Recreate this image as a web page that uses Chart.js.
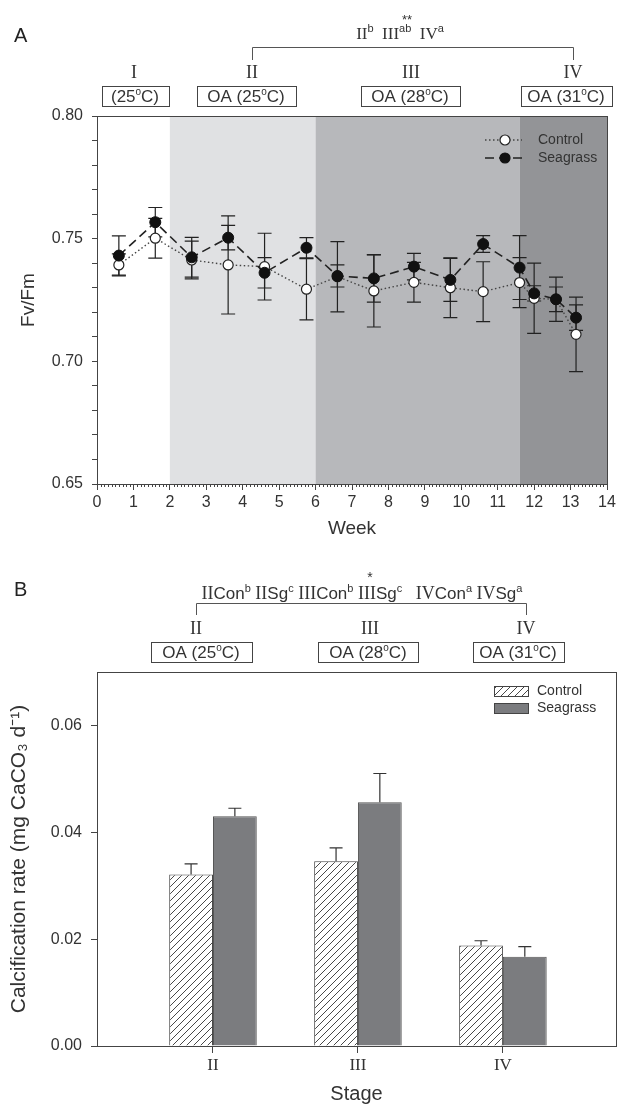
<!DOCTYPE html>
<html>
<head>
<meta charset="utf-8">
<script src="https://cdn.jsdelivr.net/npm/chart.js@4"></script>
<style>
  body { margin: 0; background: #fff; }
  #wrap { position: relative; width: 619px; height: 1106px; }
  canvas { position: absolute; left: 0; }
  #cA { top: 0; }
  #cB { top: 560px; }
</style>
</head>
<body>
<div id="wrap">
  <canvas id="cA" width="619" height="560"></canvas>
  <canvas id="cB" width="619" height="546"></canvas>
</div>
<script>
// ---- panel A data (Fv/Fm by week) ----
const weeks = [0.6, 1.6, 2.6, 3.6, 4.6, 5.75, 6.6, 7.6, 8.7, 9.7, 10.6, 11.6, 12.0, 12.6, 13.15];
const controlFv = [0.7393, 0.7502, 0.7413, 0.7393, 0.7386, 0.7294, 0.7345, 0.7287, 0.7322, 0.7300, 0.7284, 0.7321, 0.7257, 0.7253, 0.7110];
const controlErr = [0.0045, 0.0081, 0.0077, 0.0200, 0.0136, 0.0125, 0.0143, 0.0147, 0.0081, 0.0122, 0.0122, 0.0102, 0.0143, 0.0050, 0.0152];
const seagrassFv = [0.7431, 0.7567, 0.7424, 0.7504, 0.7361, 0.7463, 0.7348, 0.7338, 0.7386, 0.7332, 0.7478, 0.7382, 0.7277, 0.7253, 0.7178];
const seagrassErr = [0.0080, 0.0060, 0.0081, 0.0050, 0.0062, 0.0041, 0.0045, 0.0097, 0.0054, 0.0088, 0.0034, 0.0130, 0.0031, 0.0090, 0.0052];

// treatment periods shaded behind the lines
const bandStart = [0, 2, 6, 11.6];
const bandEnd = [2, 6, 11.6, 14];
const bandColors = ['#ffffff', '#e0e1e3', '#b7b8bb', '#939497'];

// ---- panel B data (calcification by stage) ----
const stages = ['II', 'III', 'IV'];
const controlCalc = [0.0321, 0.0346, 0.0188];
const controlCalcErr = [0.0020, 0.0025, 0.0009];
const seagrassCalc = [0.0430, 0.0456, 0.0167];
const seagrassCalcErr = [0.0015, 0.0054, 0.0019];

const SANS = '"Liberation Sans", Arial, sans-serif';
const SERIF = '"Liberation Serif", "Times New Roman", serif';
const INK = '#333';

Chart.defaults.font.family = SANS;
Chart.defaults.color = INK;

function drawRich(ctx, parts, cx, baseY) {
  let w = 0;
  parts.forEach(p => { ctx.font = p.font; p.w = ctx.measureText(p.t).width; w += p.w; });
  let x = cx - w / 2;
  ctx.textAlign = 'left';
  ctx.textBaseline = 'alphabetic';
  parts.forEach(p => { ctx.font = p.font; ctx.fillText(p.t, x, baseY + (p.dy || 0)); x += p.w; });
  return w;
}

function oaParts(temp, oa) {
  return [
    { t: (oa ? 'OA (' : '(') + temp, font: '17px ' + SANS },
    { t: 'o', font: '10px ' + SANS, dy: -7 },
    { t: 'C)', font: '17px ' + SANS },
  ];
}

function boxLabel(ctx, temp, oa, cx, w, top, h) {
  ctx.strokeStyle = '#444';
  ctx.lineWidth = 1;
  ctx.strokeRect(Math.round(cx - w / 2) + 0.5, top + 0.5, Math.round(w), h);
  ctx.fillStyle = INK;
  drawRich(ctx, oaParts(temp, oa), cx, top + h - 4);
}

function supParts(items, mainFont, midFont, subFont) {
  const parts = [];
  items.forEach((it, i) => {
    if (i > 0) parts.push({ t: it.gap || '  ', font: mainFont });
    parts.push({ t: it.r, font: mainFont });
    if (it.s) parts.push({ t: it.s, font: midFont });
    parts.push({ t: it.sup, font: subFont, dy: -7 });
  });
  return parts;
}

// ---------------- Panel A ----------------
const errsA = [controlErr, seagrassErr];

const panelAPlugin = {
  id: 'panelA',
  beforeDatasetsDraw(chart) {
    const { ctx, chartArea: a, scales: { x, y } } = chart;
    ctx.save();
    bandStart.forEach((s, i) => {
      const x0 = x.getPixelForValue(s), x1 = x.getPixelForValue(bandEnd[i]);
      ctx.fillStyle = bandColors[i];
      ctx.fillRect(x0, a.top, x1 - x0, a.bottom - a.top);
    });
    ctx.strokeStyle = '#222';
    ctx.lineWidth = 1.2;
    chart.data.datasets.forEach((ds, d) => {
      ds.data.forEach((p, i) => {
        const px = x.getPixelForValue(p.x);
        const t = y.getPixelForValue(p.y + errsA[d][i]);
        const b = y.getPixelForValue(p.y - errsA[d][i]);
        ctx.beginPath();
        ctx.moveTo(px, t); ctx.lineTo(px, b);
        ctx.moveTo(px - 7, t); ctx.lineTo(px + 7, t);
        ctx.moveTo(px - 7, b); ctx.lineTo(px + 7, b);
        ctx.stroke();
      });
    });
    ctx.restore();
  },
  afterDatasetsDraw(chart) {
    const { ctx, chartArea: a, scales: { x } } = chart;
    ctx.save();
    ctx.strokeStyle = '#444';
    ctx.lineWidth = 1;
    ctx.strokeRect(a.left + 0.5, a.top + 0.5, a.right - a.left, a.bottom - a.top);

    // minor ticks on the week axis
    ctx.beginPath();
    for (let v = 0; v <= 140; v++) {
      if (v % 10 === 0) continue;
      const px = Math.round(x.getPixelForValue(v / 10)) + 0.5;
      ctx.moveTo(px, a.bottom); ctx.lineTo(px, a.bottom + 3);
    }
    ctx.stroke();

    // legend
    const lx0 = 485, lx1 = 522, mx = 505, tx = 538;
    const rows = [{ y: 140, ds: chart.data.datasets[0] }, { y: 158, ds: chart.data.datasets[1] }];
    rows.forEach(r => {
      ctx.strokeStyle = r.ds.borderColor;
      ctx.lineWidth = r.ds.borderWidth;
      ctx.setLineDash(r.ds.borderDash);
      ctx.beginPath(); ctx.moveTo(lx0, r.y); ctx.lineTo(lx1, r.y); ctx.stroke();
      ctx.setLineDash([]);
      ctx.fillStyle = r.ds.pointBackgroundColor;
      ctx.strokeStyle = r.ds.pointBorderColor;
      ctx.lineWidth = 1.2;
      ctx.beginPath(); ctx.arc(mx, r.y, 5, 0, Math.PI * 2); ctx.fill(); ctx.stroke();
      ctx.fillStyle = INK;
      ctx.font = '14px ' + SANS;
      ctx.textBaseline = 'middle';
      ctx.fillText(r.ds.label, tx, r.y);
    });
    ctx.restore();
  },
  afterDraw(chart) {
    const { ctx } = chart;
    ctx.save();
    ctx.fillStyle = '#222';
    ctx.font = '20px ' + SANS;
    ctx.textBaseline = 'alphabetic';
    ctx.fillText('A', 14, 42);

    ctx.fillStyle = INK;
    ctx.font = '13px ' + SANS;
    ctx.textAlign = 'center';
    ctx.fillText('**', 407, 24);
    drawRich(ctx, supParts([{ r: 'II', sup: 'b' }, { r: 'III', sup: 'ab' }, { r: 'IV', sup: 'a' }],
      '17px ' + SERIF, '', '11px ' + SANS), 400, 39);

    ctx.strokeStyle = '#555';
    ctx.lineWidth = 1;
    ctx.beginPath();
    ctx.moveTo(252.5, 60); ctx.lineTo(252.5, 47.5); ctx.lineTo(573.5, 47.5); ctx.lineTo(573.5, 60);
    ctx.stroke();

    const romanX = [134, 252, 411, 573];
    ['I', 'II', 'III', 'IV'].forEach((r, i) => {
      ctx.font = '18px ' + SERIF;
      ctx.textAlign = 'center';
      ctx.fillText(r, romanX[i], 78);
    });
    boxLabel(ctx, '25', false, 135, 67, 86, 20);
    boxLabel(ctx, '25', true, 246, 99, 86, 20);
    boxLabel(ctx, '28', true, 410, 99, 86, 20);
    boxLabel(ctx, '31', true, 566, 91, 86, 20);
    ctx.restore();
  }
};

new Chart(document.getElementById('cA'), {
  type: 'line',
  data: {
    datasets: [
      {
        label: 'Control',
        data: weeks.map((w, i) => ({ x: w, y: controlFv[i] })),
        borderColor: '#444', borderWidth: 1.4, borderDash: [1.5, 2.5],
        pointRadius: 5, pointBackgroundColor: '#fff', pointBorderColor: '#222', pointBorderWidth: 1.2,
        order: 1,
      },
      {
        label: 'Seagrass',
        data: weeks.map((w, i) => ({ x: w, y: seagrassFv[i] })),
        borderColor: '#222', borderWidth: 1.6, borderDash: [9, 5],
        pointRadius: 5.5, pointBackgroundColor: '#111', pointBorderColor: '#111', pointBorderWidth: 1,
        order: 0,
      },
    ],
  },
  options: {
    responsive: false,
    animation: false,
    layout: { padding: { top: 116, right: 12, left: 0, bottom: 0 } },
    plugins: { legend: { display: false }, tooltip: { enabled: false } },
    scales: {
      x: {
        type: 'linear', min: 0, max: 14,
        afterFit: s => { s.height = 76; },
        ticks: { stepSize: 1, padding: 3, font: { size: 16 }, color: INK, maxRotation: 0 },
        grid: { drawOnChartArea: false, tickLength: 6, color: '#444' },
        border: { color: '#444' },
        title: { display: true, text: 'Week', font: { size: 19 }, color: INK, padding: { top: 0, bottom: 20 } },
      },
      y: {
        min: 0.65, max: 0.80,
        afterFit: s => { s.width = 97; },
        ticks: {
          stepSize: 0.01, autoSkip: false, padding: 9, font: { size: 16 }, color: INK,
          callback: v => Math.abs(v * 20 - Math.round(v * 20)) < 1e-6 ? v.toFixed(2) : '',
        },
        grid: { drawOnChartArea: false, tickLength: 5, color: '#444' },
        border: { color: '#444' },
        title: { display: true, text: 'Fv/Fm', font: { size: 19 }, color: INK, padding: { top: 17, bottom: 0 } },
      },
    },
  },
  plugins: [panelAPlugin],
});

// ---------------- Panel B ----------------
function hatchPattern() {
  const c = document.createElement('canvas');
  c.width = 7; c.height = 7;
  const g = c.getContext('2d');
  g.fillStyle = '#fff';
  g.fillRect(0, 0, 7, 7);
  g.strokeStyle = '#333';
  g.lineWidth = 0.9;
  g.beginPath();
  g.moveTo(-1, 8); g.lineTo(8, -1);
  g.moveTo(-1, 1); g.lineTo(1, -1);
  g.moveTo(6, 8); g.lineTo(8, 6);
  g.stroke();
  return g.createPattern(c, 'repeat');
}

const errsB = [controlCalcErr, seagrassCalcErr];

const panelBPlugin = {
  id: 'panelB',
  afterDatasetsDraw(chart) {
    const { ctx, chartArea: a, scales: { y } } = chart;
    ctx.save();
    ctx.strokeStyle = '#333';
    ctx.lineWidth = 1.2;
    chart.data.datasets.forEach((ds, d) => {
      const meta = chart.getDatasetMeta(d);
      meta.data.forEach((bar, i) => {
        const px = bar.x;
        const t = y.getPixelForValue(ds.data[i].y + errsB[d][i]);
        ctx.beginPath();
        ctx.moveTo(px, bar.y); ctx.lineTo(px, t);
        ctx.moveTo(px - 6.5, t); ctx.lineTo(px + 6.5, t);
        ctx.stroke();
      });
    });
    ctx.strokeStyle = '#444';
    ctx.lineWidth = 1;
    ctx.strokeRect(a.left + 0.5, a.top + 0.5, a.right - a.left, a.bottom - a.top);

    // legend
    const sx = 494, sw = 34, tx = 537;
    const rows = [{ y: 131, ds: chart.data.datasets[0] }, { y: 148, ds: chart.data.datasets[1] }];
    rows.forEach(r => {
      ctx.fillStyle = r.ds.backgroundColor;
      ctx.fillRect(sx, r.y - 5, sw, 10);
      ctx.strokeStyle = '#444';
      ctx.lineWidth = 1;
      ctx.strokeRect(sx + 0.5, r.y - 5 + 0.5, sw, 10);
      ctx.fillStyle = INK;
      ctx.font = '14px ' + SANS;
      ctx.textBaseline = 'middle';
      ctx.fillText(r.ds.label, tx, r.y);
    });
    ctx.restore();
  },
  afterDraw(chart) {
    const { ctx } = chart;
    ctx.save();
    ctx.fillStyle = '#222';
    ctx.font = '20px ' + SANS;
    ctx.fillText('B', 14, 36);

    ctx.fillStyle = INK;
    ctx.font = '14px ' + SANS;
    ctx.textAlign = 'center';
    ctx.fillText('*', 370, 22);
    drawRich(ctx, supParts([
      { r: 'II', s: 'Con', sup: 'b' }, { r: 'II', s: 'Sg', sup: 'c', gap: ' ' },
      { r: 'III', s: 'Con', sup: 'b', gap: ' ' }, { r: 'III', s: 'Sg', sup: 'c', gap: ' ' },
      { r: 'IV', s: 'Con', sup: 'a', gap: '   ' }, { r: 'IV', s: 'Sg', sup: 'a', gap: ' ' },
    ], '18px ' + SERIF, '17px ' + SANS, '11px ' + SANS), 362, 39);

    ctx.strokeStyle = '#555';
    ctx.lineWidth = 1;
    ctx.beginPath();
    ctx.moveTo(196.5, 55); ctx.lineTo(196.5, 43.5); ctx.lineTo(526.5, 43.5); ctx.lineTo(526.5, 55);
    ctx.stroke();

    const romanX = [196, 370, 526];
    stages.forEach((r, i) => {
      ctx.font = '18px ' + SERIF;
      ctx.textAlign = 'center';
      ctx.fillText(r, romanX[i], 74);
    });
    boxLabel(ctx, '25', true, 201, 101, 82, 20);
    boxLabel(ctx, '28', true, 368, 100, 82, 20);
    boxLabel(ctx, '31', true, 518, 91, 82, 20);
    ctx.restore();
  }
};

new Chart(document.getElementById('cB'), {
  type: 'bar',
  data: {
    datasets: [
      {
        label: 'Control',
        data: stages.map((s, i) => ({ x: i + 2, y: controlCalc[i] })),
        backgroundColor: hatchPattern(), borderColor: '#444', borderWidth: 1,
        categoryPercentage: 0.604, barPercentage: 1,
      },
      {
        label: 'Seagrass',
        data: stages.map((s, i) => ({ x: i + 2, y: seagrassCalc[i] })),
        backgroundColor: '#7b7c7f', borderColor: '#555', borderWidth: 1,
        categoryPercentage: 0.604, barPercentage: 1,
      },
    ],
  },
  options: {
    responsive: false,
    animation: false,
    layout: { padding: { top: 112, right: 3, left: 0, bottom: 0 } },
    plugins: { legend: { display: false }, tooltip: { enabled: false } },
    scales: {
      x: {
        type: 'linear', min: 1.2, max: 4.78, offset: false,
        afterFit: s => { s.height = 60; },
        afterBuildTicks: s => { s.ticks = stages.map((st, i) => ({ value: i + 2 })); },
        ticks: { font: { size: 17, family: SERIF }, color: INK, padding: 2, maxRotation: 0,
                 callback: v => stages[v - 2] },
        grid: { drawOnChartArea: false, tickLength: 7, color: '#444', offset: false },
        border: { color: '#444' },
        title: { display: true, text: 'Stage', font: { size: 20 }, color: INK, padding: { top: 0, bottom: 0 } },
      },
      y: {
        min: 0, max: 0.07,
        afterFit: s => { s.width = 97; },
        ticks: { stepSize: 0.02, includeBounds: false, padding: 9, font: { size: 16 }, color: INK,
                 callback: v => v.toFixed(2) },
        grid: { drawOnChartArea: false, tickLength: 6, color: '#444' },
        border: { color: '#444' },
        title: { display: true, text: 'Calcification rate (mg CaCO\u2083 d\u207B\u00B9)', font: { size: 21 }, color: INK, padding: { top: 7, bottom: 0 } },
      },
    },
  },
  plugins: [panelBPlugin],
});
</script>
</body>
</html>
